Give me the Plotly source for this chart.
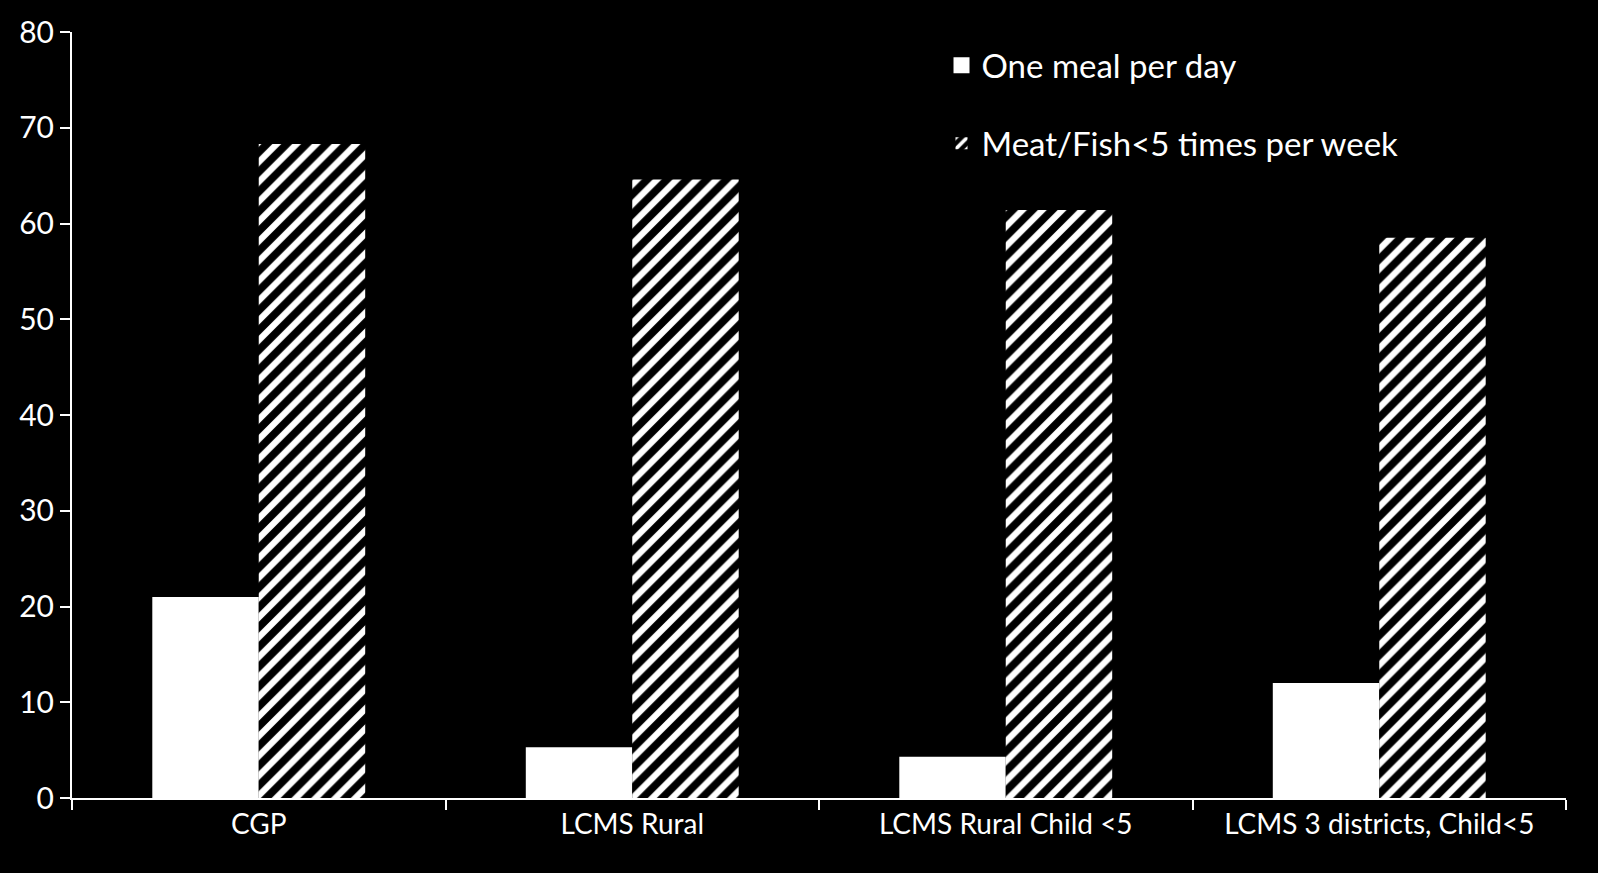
import plotly.graph_objects as go

categories = ["CGP", "LCMS Rural", "LCMS Rural Child <5", "LCMS 3 districts, Child<5"]
one_meal = [21.0, 5.3, 4.3, 12.0]
meat_fish = [68.3, 64.6, 61.4, 58.5]
series_names = ["One meal per day", "Meat/Fish<5 times per week"]

FONT = "Lato"

fig = go.Figure()
# legend proxy for the solid series (bigger square, like the reference)
fig.add_trace(go.Scatter(
    x=[categories[0]], y=[None], mode="markers", name=series_names[0],
    marker=dict(symbol="square", size=20, color="white"),
    legendgroup="a", showlegend=True, hoverinfo="skip",
))
fig.add_trace(go.Bar(
    x=categories, y=one_meal, name=series_names[0],
    marker=dict(color="white", line=dict(width=0)),
    legendgroup="a", showlegend=False,
))
fig.add_trace(go.Bar(
    x=categories, y=meat_fish, name=series_names[1],
    marker=dict(color="black", line=dict(width=0),
                pattern=dict(shape="/", fgcolor="white", bgcolor="black",
                             size=14, solidity=0.45, fillmode="replace",
                             fgopacity=1)),
    legendgroup="b",
))

fig.update_layout(
    width=1598, height=873,
    paper_bgcolor="black", plot_bgcolor="black",
    margin=dict(l=72, r=32, t=21, b=75),
    barmode="group", bargap=0.43, bargroupgap=0,
    font=dict(family=FONT, color="white", size=28),
    showlegend=True,
    legend=dict(x=0.582, y=0.993, xanchor="left", yanchor="top",
                bgcolor="rgba(0,0,0,0)", font=dict(size=33, color="white"),
                tracegroupgap=32, traceorder="grouped", itemwidth=30),
    xaxis=dict(showline=True, linecolor="white", linewidth=2,
               ticks="outside", tickson="boundaries", ticklen=10, tickwidth=2,
               tickcolor="white", showgrid=False, tickfont=dict(size=28),
               zeroline=False),
    yaxis=dict(range=[0, 80], dtick=10, showline=True, linecolor="white", linewidth=2,
               ticks="outside", ticklen=10, tickwidth=2, tickcolor="white",
               showgrid=False, zeroline=False, tickfont=dict(size=30)),
)

fig.write_html(
    "out.html",
    config={"displayModeBar": False},
    post_script="document.body.style.margin='0';document.body.style.background='black';"
                "document.body.style.overflow='hidden';",
)
